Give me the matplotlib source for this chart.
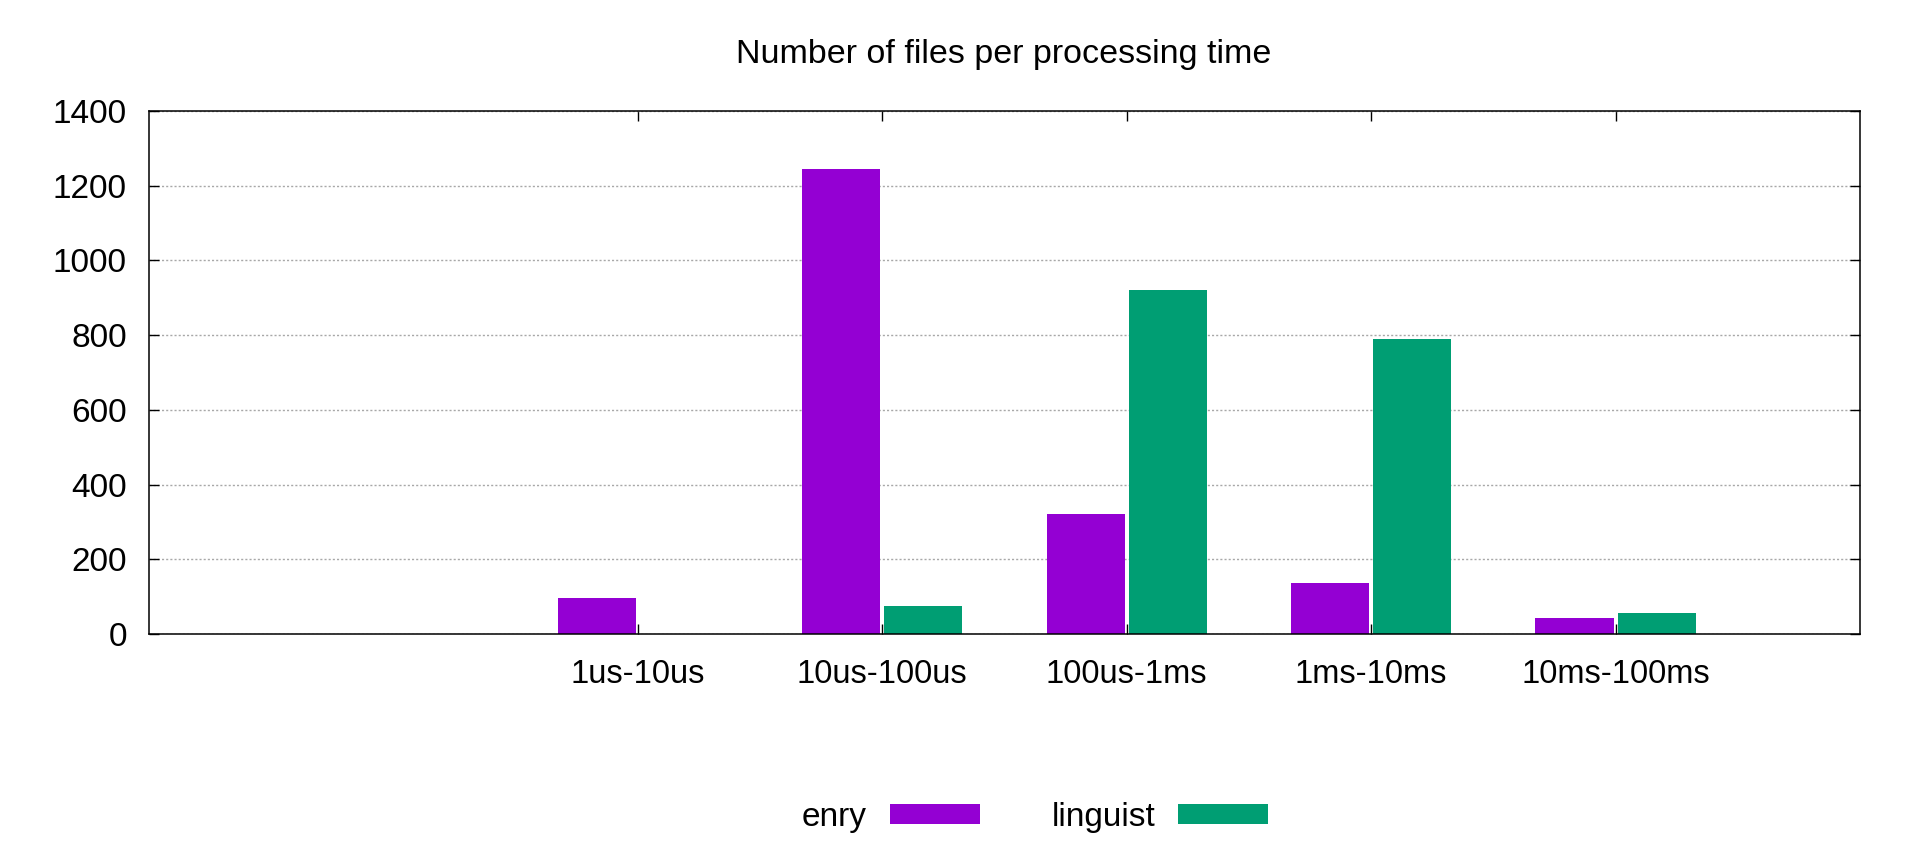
import numpy as np
import matplotlib
matplotlib.use("Agg")
import matplotlib.pyplot as plt

plt.rcParams['font.family'] = ['Liberation Sans', 'DejaVu Sans']

categories = ['1us-10us', '10us-100us', '100us-1ms', '1ms-10ms', '10ms-100ms']
enry = [96, 1245, 321, 136, 42]
linguist = [0, 75, 920, 789, 55]

ENRY_COLOR = '#9400d3'
LINGUIST_COLOR = '#009e73'

fig = plt.figure(figsize=(19.2, 8.5), dpi=100)
ax = fig.add_axes([149 / 1920, 1 - 634 / 850, (1860 - 149) / 1920, (634 - 111) / 850])

x = np.arange(len(categories))
w = 0.32
ax.bar(x - 0.168, enry, width=w, color=ENRY_COLOR, label='enry', zorder=1)
ax.bar(x + 0.168, linguist, width=w, color=LINGUIST_COLOR, label='linguist', zorder=1)

ax.set_xlim(-2, len(categories))
ax.set_ylim(0, 1400)
ax.set_yticks(np.arange(0, 1401, 200))
ax.set_xticks(x)
ax.set_xticklabels(categories)

ax.set_axisbelow(True)
ax.yaxis.grid(True, color='#a8a8a8', linestyle=(0, (1.5, 1.5)), linewidth=1.0)

ax.tick_params(axis='both', direction='in', length=7, width=1.0,
               top=True, right=True)
ax.tick_params(axis='y', pad=16, labelsize=24)
ax.tick_params(axis='x', pad=18, labelsize=23.5)
for s in ax.spines.values():
    s.set_linewidth(1.1)

fig.text(0.523, 1 - 54 / 850, 'Number of files per processing time',
         ha='center', va='center', fontsize=24.5)

fig.legend(loc='center', bbox_to_anchor=(0.539, 0.038), ncol=2, frameon=False,
           markerfirst=False, fontsize=24, handlelength=2.7, handleheight=0.54,
           handletextpad=0.7, columnspacing=2.15)

fig.savefig('out.png', dpi=100)
